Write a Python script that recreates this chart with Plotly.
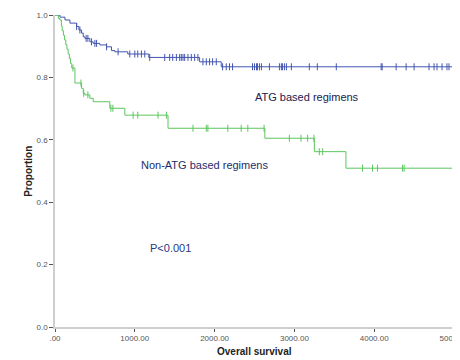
import numpy as np
import plotly.graph_objects as go

# ATG based regimens (blue): step times and survival
atg_t = [0, 62, 125, 187, 271, 300, 333, 354, 375, 437, 479, 562, 646, 708, 750, 912, 1175, 1812, 2083, 5000]
atg_s = [1.0, 0.993, 0.984, 0.974, 0.963, 0.952, 0.942, 0.930, 0.925, 0.914, 0.909, 0.904, 0.898, 0.886, 0.882,
         0.875, 0.864, 0.850, 0.834, 0.834]
atg_cens = [271, 312, 390, 412, 458, 500, 521, 646, 791, 937, 1000, 1037, 1083, 1125, 1187, 1375, 1437, 1475,
            1521, 1562, 1583, 1604, 1625, 1666, 1708, 1750, 1791, 1854, 1896, 1937, 1975, 2021, 2100, 2146,
            2187, 2225, 2475, 2500, 2525, 2537, 2562, 2587, 2687, 2812, 2837, 2850, 2875, 2900, 2962, 3187,
            3287, 3525, 4087, 4100, 4275, 4400, 4500, 4687, 4750, 4787, 4850, 4912, 4937]

# Non-ATG based regimens (green)
non_t = [0, 42, 62, 80, 90, 105, 120, 135, 150, 165, 180, 195, 210, 250, 333, 354, 375, 437, 479, 687, 875,
         1416, 2630, 3250, 3646, 4975]
non_s = [1.0, 0.989, 0.984, 0.965, 0.950, 0.935, 0.920, 0.905, 0.890, 0.875, 0.860, 0.845, 0.830, 0.782, 0.765,
         0.749, 0.744, 0.733, 0.722, 0.701, 0.679, 0.637, 0.605, 0.562, 0.509, 0.509]
non_cens = [225, 325, 360, 412, 700, 725, 979, 1037, 1291, 1396, 1729, 1896, 1916, 2166, 2333, 2416, 2620,
            2937, 3083, 3166, 3245, 3312, 3354, 3854, 3979, 4041, 4354, 4375]

x_ticks = [0, 1000, 2000, 3000, 4000, 5000]
x_labels = [".00", "1000.00", "2000.00", "3000.00", "4000.00", "5000.00"]
y_ticks = [0.0, 0.2, 0.4, 0.6, 0.8, 1.0]
y_labels = ["0.0", "0.2", "0.4", "0.6", "0.8", "1.0"]

BLUE = "#4356b0"
GREEN = "#5cc65e"
FONT = "Liberation Sans, Arial, sans-serif"


def step_val(times, surv, t):
    idx = np.searchsorted(np.array(times), np.array(t), side="right") - 1
    return [surv[i] for i in idx]


fig = go.Figure()
for t, s, c, col in [(atg_t, atg_s, atg_cens, BLUE), (non_t, non_s, non_cens, GREEN)]:
    fig.add_trace(go.Scatter(x=t, y=s, mode="lines", line=dict(color=col, width=1, shape="hv"),
                             showlegend=False, hoverinfo="skip"))
    fig.add_trace(go.Scatter(x=c, y=step_val(t, s, c), mode="markers",
                             marker=dict(symbol="line-ns", size=5, line=dict(color=col, width=1)),
                             showlegend=False))

tickfont = dict(family=FONT, size=8, color="#555555")
fig.update_layout(
    width=452, height=352,
    margin=dict(l=47, r=6, t=7, b=33, autoexpand=False),
    paper_bgcolor="white", plot_bgcolor="white",
    xaxis=dict(range=[0, 5000], tickvals=x_ticks, ticktext=x_labels, showgrid=False, zeroline=False,
               showline=True, linecolor="#cfcfcf", linewidth=1.5, ticks="outside", ticklen=3,
               tickcolor="#555555", tickfont=tickfont, ticklabeloverflow="allow", automargin=False),
    yaxis=dict(range=[0, 1.0], tickvals=y_ticks, ticktext=y_labels, showgrid=False, zeroline=False,
               showline=True, linecolor="#cfcfcf", linewidth=1.5, ticks="outside", ticklen=4,
               tickcolor="#555555", tickfont=tickfont, automargin=False),
    annotations=[
        dict(text="<b>Proportion</b>", xref="paper", yref="paper", x=-0.068, y=0.5, textangle=-90,
             xanchor="center", yanchor="middle",
             showarrow=False, font=dict(family=FONT, size=10, color="#222222")),
        dict(text="<b>Overall survival</b>", xref="paper", yref="paper", x=0.5, y=-0.08,
             xanchor="center", yanchor="middle",
             showarrow=False, font=dict(family=FONT, size=10, color="#222222")),
        dict(text="ATG based regimens", xref="x", yref="y", x=3156, y=0.737, showarrow=False,
             xanchor="center", yanchor="middle",
             font=dict(family=FONT, size=11, color="#1a2050")),
        dict(text="Non-ATG based regimens", xref="x", yref="y", x=1875, y=0.519, showarrow=False,
             xanchor="center", yanchor="middle",
             font=dict(family=FONT, size=11, color="#1c2d6b")),
        dict(text="P<0.001", xref="x", yref="y", x=1444, y=0.253, showarrow=False,
             xanchor="center", yanchor="middle",
             font=dict(family=FONT, size=11, color="#1f3a80")),
    ],
)

fig.write_html("out.html")
